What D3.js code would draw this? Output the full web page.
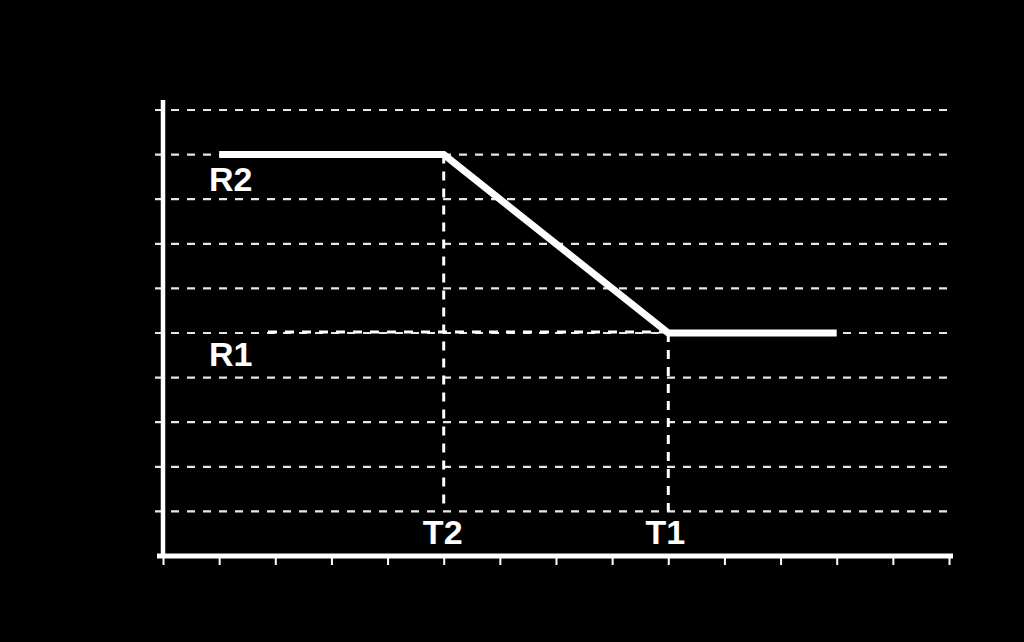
<!DOCTYPE html>
<html><head><meta charset="utf-8">
<script src="https://cdn.jsdelivr.net/npm/d3@7"></script>
<style>html,body{margin:0;padding:0;background:#000;}svg{display:block;}</style>
</head><body>
<svg id="c" width="1024" height="642"></svg>
<script>
const xTicks = d3.range(0, 15);
const gridLevels = [1,2,3,4,5,6,7,8,9,10];
const lineX = [1, 5, 9, 12];
const lineY = [9, 9, 5, 5];
const R = {R2: 9, R1: 5};
const T = {T2: 5, T1: 9};
const labels = ["R2", "R1", "T2", "T1"];

const svg = d3.select("#c");
svg.append("rect").attr("width",1024).attr("height",642).attr("fill","#000");
const x = d3.scaleLinear().domain([0,14]).range([163,949]);
const y = d3.scaleLinear().domain([0,10]).range([556,110]);

// gridlines
svg.append("g").selectAll("line").data(gridLevels).join("line")
  .attr("x1", x(0)-8).attr("x2", x(14)+2)
  .attr("y1", d=>y(d)).attr("y2", d=>y(d))
  .attr("stroke","#e6e6e6").attr("stroke-width",2.2).attr("stroke-dasharray","8,8");

// R1 dashed reference
svg.append("line").attr("x1", x(1.87)).attr("x2", x(9)).attr("y1", y(R.R1)-1).attr("y2", y(R.R1)-1)
  .attr("stroke","#fff").attr("stroke-width",3).attr("stroke-dasharray","9,8");

// T dashed verticals
svg.append("line").attr("x1", x(T.T2)).attr("x2", x(T.T2)).attr("y1", y(R.R2)).attr("y2", y(1))
  .attr("stroke","#fff").attr("stroke-width",3).attr("stroke-dasharray","9,8");
svg.append("line").attr("x1", x(T.T1)).attr("x2", x(T.T1)).attr("y1", y(R.R1)).attr("y2", y(1))
  .attr("stroke","#fff").attr("stroke-width",3).attr("stroke-dasharray","9,8");

// axes
const xAxis = d3.axisBottom(x).tickValues(xTicks).tickSize(9).tickFormat("");
const gx = svg.append("g").attr("transform",`translate(0,${y(0)})`).call(xAxis);
gx.select(".domain").remove();
gx.selectAll(".tick line").attr("stroke","#fff").attr("stroke-width",2);
svg.append("line").attr("x1",157).attr("x2",953).attr("y1",y(0)).attr("y2",y(0))
  .attr("stroke","#fff").attr("stroke-width",5);
svg.append("line").attr("x1",x(0)).attr("x2",x(0)).attr("y1",100).attr("y2",y(0)+2)
  .attr("stroke","#fff").attr("stroke-width",4.5);

// main line
const pts = lineX.map((v,i)=>[v, lineY[i]]);
svg.append("path").datum(pts)
  .attr("d", d3.line().x(d=>x(d[0])).y(d=>y(d[1])))
  .attr("fill","none").attr("stroke","#fff").attr("stroke-width",7).attr("stroke-linejoin","miter");

// labels
const font = "Liberation Sans, Arial, sans-serif";
function lab(t, px, py, anchor){
  svg.append("text").attr("x",px).attr("y",py).attr("text-anchor",anchor)
    .attr("fill","#fff").attr("font-family",font).attr("font-weight","bold").attr("font-size",34).text(t);
}
lab(labels[0], 209, y(R.R2)+36, "start");
lab(labels[1], 209, y(R.R1)+33, "start");
lab(labels[2], x(T.T2)-1, 544, "middle");
lab(labels[3], x(T.T1)-3, 544, "middle");
</script>
</body></html>
